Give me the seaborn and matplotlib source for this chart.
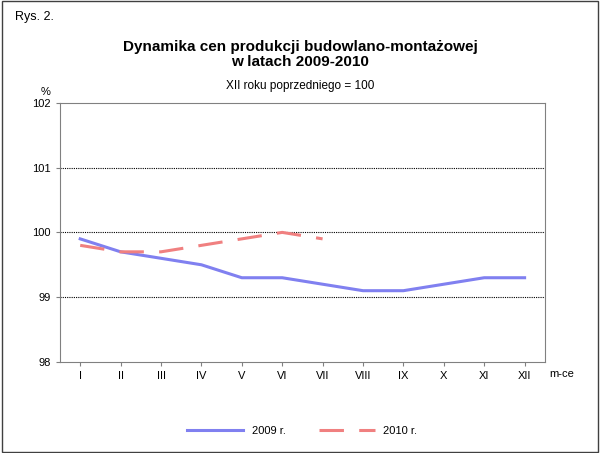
import matplotlib
matplotlib.use("Agg")
import matplotlib.pyplot as plt
import seaborn as sns
import pandas as pd

months = ["I", "II", "III", "IV", "V", "VI", "VII", "VIII", "IX", "X", "XI", "XII"]
val_2009 = [99.9, 99.7, 99.6, 99.5, 99.3, 99.3, 99.2, 99.1, 99.1, 99.2, 99.3, 99.3]
val_2010 = [99.8, 99.7, 99.7, 99.8, 99.9, 100.0, 99.9]

df09 = pd.DataFrame({"x": range(len(val_2009)), "y": val_2009})
df10 = pd.DataFrame({"x": range(len(val_2010)), "y": val_2010})

plt.rcParams["font.family"] = "Liberation Sans"
fig = plt.figure(figsize=(6, 4.53), dpi=100)
fig.patch.set_facecolor("white")
ax = fig.add_axes([0.1, 0.201, 0.808, 0.572])

sns.lineplot(data=df09, x="x", y="y", ax=ax, color="#8080f0", linewidth=2.2, label="2009 r.")
sns.lineplot(data=df10, x="x", y="y", ax=ax, color="#f08080", linewidth=2.2,
             dashes=False, label="2010 r.")
ax.lines[1].set_dashes([8, 5])

ax.set_xlim(-0.5, 11.5)
ax.set_ylim(98, 102)
ax.set_yticks([98, 99, 100, 101, 102])
ax.set_xticks(range(12))
ax.set_xticklabels(months, fontsize=8)
ax.tick_params(axis="y", labelsize=8)
ax.tick_params(length=3, color="#808080")
for y in [99, 100, 101]:
    ax.axhline(y, color="black", linewidth=0.8, linestyle=(0, (1, 1)), zorder=0)
for s in ax.spines.values():
    s.set_color("#808080")
ax.set_xlabel("")
ax.set_ylabel("")

ax.text(-0.02, 1.03, "%", transform=ax.transAxes, fontsize=8, ha="right")
ax.text(1.01, -0.06, "m-ce", transform=ax.transAxes, fontsize=8, ha="left")

leg = ax.legend(loc="upper center", bbox_to_anchor=(0.5, -0.21), ncol=2, frameon=False,
                fontsize=8, handlelength=5, columnspacing=3)

fig.text(0.025, 0.955, "Rys. 2.", fontsize=9)
fig.text(0.5, 0.88, "Dynamika cen produkcji budowlano-montażowej\nw latach 2009-2010",
         fontsize=11, fontweight="bold", ha="center", va="center", linespacing=1.1)
fig.text(0.5, 0.81, "XII roku poprzedniego = 100", fontsize=8.5, ha="center", va="center")

fig.add_artist(plt.Rectangle((0.003, 0.003), 0.994, 0.994, transform=fig.transFigure,
                             fill=False, edgecolor="#404040", linewidth=1))

fig.savefig("out.png", dpi=100)
